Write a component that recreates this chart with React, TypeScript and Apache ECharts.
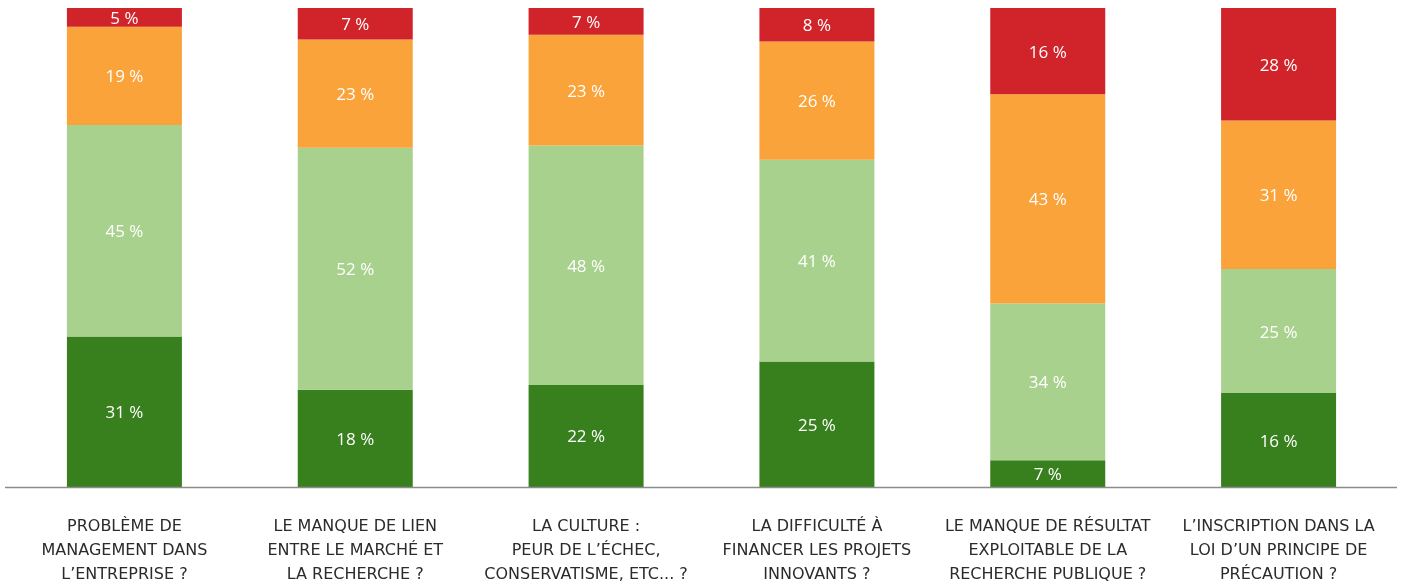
import React, { useEffect, useRef } from "react";
import * as echarts from "echarts";

const categories = [
  "PROBLÈME DE\nMANAGEMENT DANS\nL’ENTREPRISE ?",
  "LE MANQUE DE LIEN\nENTRE LE MARCHÉ ET\nLA RECHERCHE ?",
  "LA CULTURE :\nPEUR DE L’ÉCHEC,\nCONSERVATISME, ETC... ?",
  "LA DIFFICULTÉ À\nFINANCER LES PROJETS\nINNOVANTS ?",
  "LE MANQUE DE RÉSULTAT\nEXPLOITABLE DE LA\nRECHERCHE PUBLIQUE ?",
  "L’INSCRIPTION DANS LA\nLOI D’UN PRINCIPE DE\nPRÉCAUTION ?",
];

// Segment sizes as drawn in the picture (share of each bar, bottom to top)
const darkGreen = [31.4, 20.3, 21.3, 26.2, 5.6, 19.6];
const lightGreen = [44.2, 50.5, 50.0, 42.1, 32.7, 25.9];
const orange = [20.5, 22.6, 23.1, 24.7, 43.7, 31.0];
const red = [3.9, 6.6, 5.6, 7.0, 18.0, 23.5];

// Percentages printed on the segments
const darkGreenLabels = [31, 18, 22, 25, 7, 16];
const lightGreenLabels = [45, 52, 48, 41, 34, 25];
const orangeLabels = [19, 23, 23, 26, 43, 31];
const redLabels = [5, 7, 7, 8, 16, 28];

const seriesDefs = [
  { name: "s1", data: darkGreen, labels: darkGreenLabels, color: "#38801e" },
  { name: "s2", data: lightGreen, labels: lightGreenLabels, color: "#a9d18e" },
  { name: "s3", data: orange, labels: orangeLabels, color: "#f9a33a" },
  { name: "s4", data: red, labels: redLabels, color: "#d1232a" },
];

export default function App() {
  const ref = useRef<HTMLDivElement>(null);
  useEffect(() => {
    if (!ref.current) return;
    const chart = echarts.init(ref.current, null, { renderer: "svg" });
    chart.setOption({
      animation: false,
      grid: { left: 9, right: 9, top: 8, bottom: 100, containLabel: false },
      xAxis: {
        type: "category",
        data: categories,
        axisLine: { show: false },
        axisTick: { show: false },
        axisLabel: {
          interval: 0,
          margin: 26,
          color: "#2b2b2b",
          fontFamily: "DejaVu Sans",
          fontSize: 16,
          lineHeight: 24,
          align: "center",
        },
      },
      yAxis: {
        type: "value",
        min: 0,
        max: 100,
        show: false,
        splitLine: { show: false },
      },
      graphic: [
        {
          type: "line",
          shape: { x1: 5, y1: 487.5, x2: 1397, y2: 487.5 },
          style: { stroke: "#8c8c8c", lineWidth: 1.5 },
          z: 10,
        },
      ],
      series: seriesDefs.map((s) => ({
        name: s.name,
        type: "bar",
        stack: "total",
        data: s.data,
        barWidth: 115,
        itemStyle: { color: s.color },
        label: {
          show: true,
          position: "inside",
          color: "#ffffff",
          fontFamily: "Open Sans",
          fontSize: 17,
          formatter: (p: any) => `${s.labels[p.dataIndex]} %`,
        },
      })),
    });
    return () => chart.dispose();
  }, []);
  return (
    <div
      ref={ref}
      style={{ position: "fixed", left: 0, top: 0, width: 1403, height: 587 }}
    />
  );
}
